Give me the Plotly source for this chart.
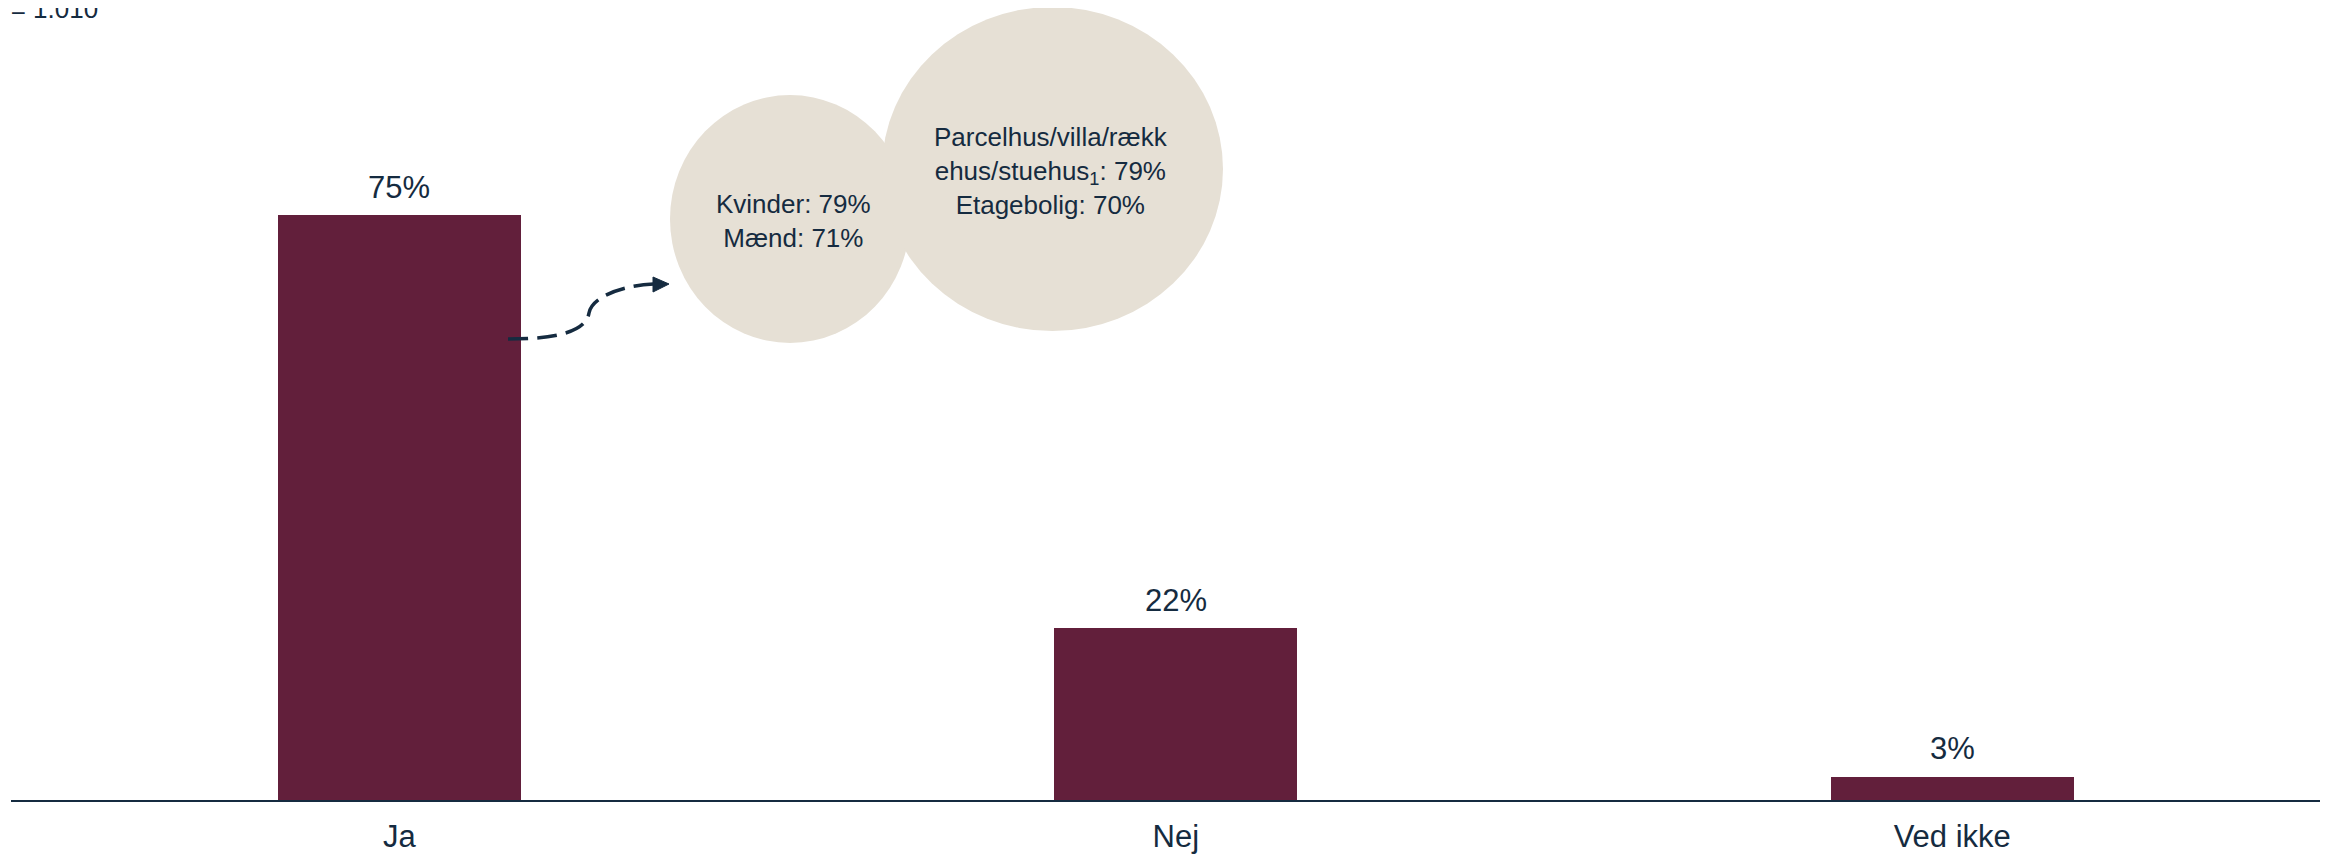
import plotly.graph_objects as go

# ---- data ----
categories = ["Ja", "Nej", "Ved ikke"]
values = [75, 22, 3]
value_labels = ["75%", "22%", "3%"]
gender_lines = ["Kvinder: 79%", "Mænd: 71%"]
housing_lines = ["Parcelhus/villa/rækk", "ehus/stuehus<sub>1</sub>: 79%", "Etagebolig: 70%"]
n_label = "n = 1.010"

# ---- style ----
BAR = "#621F3B"
NAVY = "#152B40"
BUBBLE = "#E6E0D5"
FONT = "Liberation Sans, Arial, sans-serif"

OFF = 8                      # page offset of the figure in the browser
W, H = 2328 - OFF, 854 - OFF
PL, PT, PW, PH = 3, 0, 2317, 792
PX_PER_UNIT = 7.8


def px(x_page):
    return (x_page - OFF - PL) / PW


def py(y_page):
    return (PT + PH - (y_page - OFF)) / PH


xs = list(range(len(categories)))

fig = go.Figure()
fig.add_trace(go.Bar(x=xs, y=values, width=0.313, marker=dict(color=BAR, line=dict(width=0)),
                     hoverinfo="skip", showlegend=False))

annotations = []
for i, (v, lab) in enumerate(zip(values, value_labels)):
    annotations.append(dict(x=i, y=v, xref="x", yref="y", text=lab, showarrow=False,
                            yanchor="middle", yshift=28,
                            font=dict(family=FONT, size=31, color=NAVY)))

shapes = []
# bubbles (decorations)
shapes.append(dict(type="circle", xref="paper", yref="paper", layer="above",
                   x0=px(670), x1=px(910), y0=py(343), y1=py(95),
                   fillcolor=BUBBLE, line=dict(width=0)))
shapes.append(dict(type="circle", xref="paper", yref="paper", layer="above",
                   x0=px(882), x1=px(1223), y0=py(331), y1=py(7),
                   fillcolor=BUBBLE, line=dict(width=0)))
# dashed curved connector
path = (f"M {px(508)},{py(339)} C {px(562)},{py(339)} {px(586)},{py(330)} {px(589)},{py(313)} "
        f"C {px(592)},{py(296)} {px(625)},{py(285)} {px(655)},{py(284)}")
shapes.append(dict(type="path", xref="paper", yref="paper", path=path, layer="above",
                   line=dict(color=NAVY, width=3.5, dash="20px,9px")))
head = f"M {px(653)},{py(277)} L {px(669)},{py(284)} L {px(653)},{py(292)} Z"
shapes.append(dict(type="path", xref="paper", yref="paper", path=head, layer="above",
                   fillcolor=NAVY, line=dict(color=NAVY, width=1)))

annotations.append(dict(x=px(793), y=py(221), xref="paper", yref="paper",
                        text="<br>".join(gender_lines), showarrow=False, align="center",
                        xanchor="center", yanchor="middle",
                        font=dict(family=FONT, size=26, color=NAVY)))
annotations.append(dict(x=px(1051), y=py(171), xref="paper", yref="paper",
                        text="<br>".join(housing_lines), showarrow=False, align="center",
                        xanchor="center", yanchor="middle",
                        font=dict(family=FONT, size=26, color=NAVY)))
annotations.append(dict(x=px(100), y=py(9), xref="paper", yref="paper",
                        text=n_label, showarrow=False, xanchor="right", yanchor="middle",
                        font=dict(family=FONT, size=26, color=NAVY)))

fig.update_layout(
    width=W, height=H,
    margin=dict(l=PL, r=W - PL - PW, t=PT, b=H - PT - PH, pad=0, autoexpand=False),
    plot_bgcolor="white", paper_bgcolor="white",
    shapes=shapes, annotations=annotations,
    xaxis=dict(range=[-0.5, -0.5 + PW / 776.5], tickvals=xs, ticktext=categories,
               showgrid=False, zeroline=False, showline=True, linecolor=NAVY, linewidth=2,
               ticks="", ticklabelstandoff=8, automargin=False,
               tickfont=dict(family=FONT, size=31, color=NAVY), fixedrange=True),
    yaxis=dict(range=[0, PH / PX_PER_UNIT], visible=False, showgrid=False, zeroline=False,
               automargin=False, fixedrange=True),
    bargap=0,
)

fig.write_html("out.html")
